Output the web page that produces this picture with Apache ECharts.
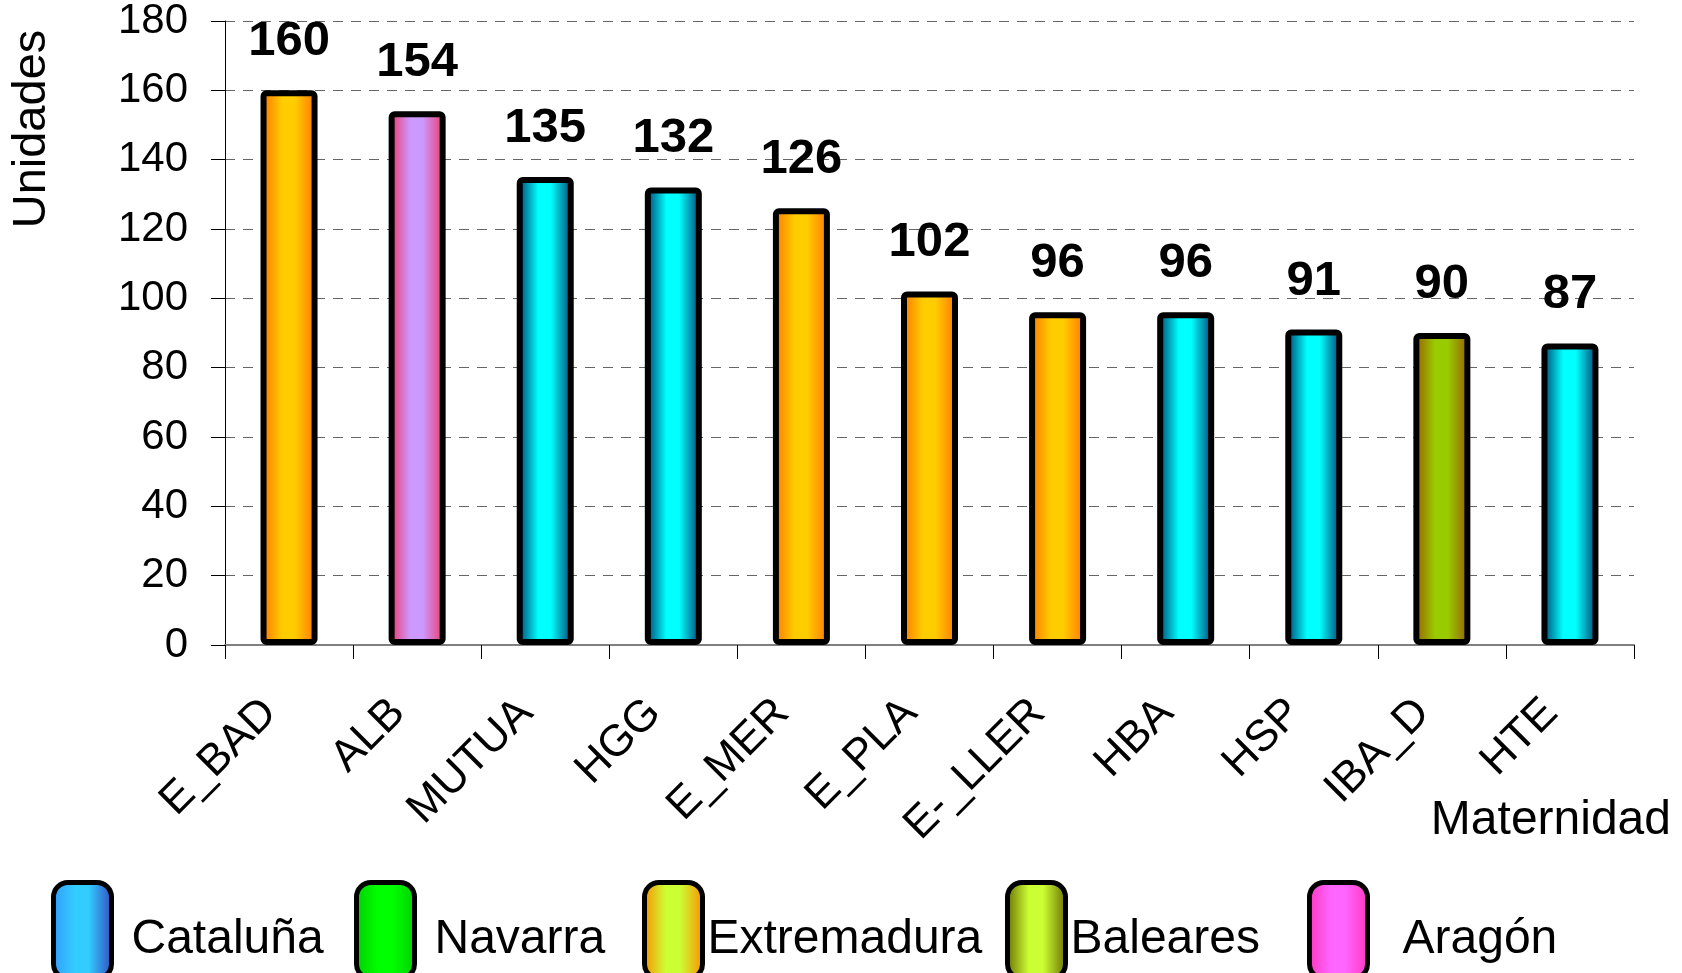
<!DOCTYPE html>
<html>
<head>
<meta charset="utf-8">
<script src="https://cdn.jsdelivr.net/npm/echarts@6/dist/echarts.min.js"></script>
<style>
  html, body { margin: 0; padding: 0; background: #fff; }
  #chart { width: 1682px; height: 973px; }
</style>
</head>
<body>
<div id="chart"></div>
<script>
var categories = ['E_BAD', 'ALB', 'MUTUA', 'HGG', 'E_MER', 'E_PLA', 'E-_LLER', 'HBA', 'HSP', 'IBA_D', 'HTE'];
var values = [160, 154, 135, 132, 126, 102, 96, 96, 91, 90, 87];
var regionOf = ['Extremadura', 'Aragón', 'Cataluña', 'Cataluña', 'Extremadura', 'Extremadura', 'Extremadura', 'Cataluña', 'Cataluña', 'Baleares', 'Cataluña'];
var regions = ['Cataluña', 'Navarra', 'Extremadura', 'Baleares', 'Aragón'];
var yTicks = { min: 0, max: 180, interval: 20 };

var FONT = '"Liberation Sans", Arial, sans-serif';

function grad(edge, mid, edge2) {
  return new echarts.graphic.LinearGradient(0, 0, 1, 0, [
    { offset: 0, color: edge },
    { offset: 0.38, color: mid },
    { offset: 0.6, color: mid },
    { offset: 1, color: edge2 || edge }
  ]);
}

// bar fills
var barFill = {
  'Cataluña': grad('#003366', '#00ffff'),
  'Navarra': grad('#00aa00', '#00ff00'),
  'Extremadura': grad('#ff7000', '#ffcc00'),
  'Baleares': grad('#995500', '#99cc00'),
  'Aragón': grad('#f0305e', '#cc99ff')
};

// legend swatches (differ from the bars)
var legendFill = {
  'Cataluña': grad('#3399ff', '#33ccff', '#3344bb'),
  'Navarra': grad('#00cc00', '#00ff00'),
  'Extremadura': grad('#ff8800', '#ccff33'),
  'Baleares': grad('#666600', '#ccff33'),
  'Aragón': grad('#ff33bb', '#ff66ff')
};

var legendLeft = [46, 349, 637, 1000, 1302];
var legendTextPad = [15, 15, 0, 0, 30];

var series = regions.map(function (r) {
  return {
    name: r,
    type: 'bar',
    stack: 'all',
    barWidth: 57,
    data: values.map(function (v, i) { return regionOf[i] === r ? v : '-'; }),
    itemStyle: {
      color: barFill[r],
      borderColor: '#000',
      borderWidth: 6,
      borderRadius: 3
    },
    label: {
      show: true,
      position: 'top',
      distance: 24,
      color: '#000',
      fontFamily: FONT,
      fontSize: 49,
      fontWeight: 'bold'
    }
  };
});

var legends = regions.map(function (r, i) {
  return {
    left: legendLeft[i],
    top: 875,
    orient: 'horizontal',
    itemWidth: 58,
    itemHeight: 96,
    icon: 'roundRect',
    selectedMode: false,
    data: [{
      name: r,
      itemStyle: { color: legendFill[r], borderColor: '#000', borderWidth: 5 }
    }],
    formatter: '{t|{name}}',
    textStyle: {
      color: '#000',
      fontFamily: FONT,
      fontSize: 48,
      rich: {
        t: {
          color: '#000',
          fontFamily: FONT,
          fontSize: 48,
          lineHeight: 50,
          padding: [18, 0, 0, legendTextPad[i]]
        }
      }
    }
  };
});

var chart = echarts.init(document.getElementById('chart'));

var option = {
  backgroundColor: '#fff',
  animation: false,
  grid: {
    left: 225,
    right: 48,
    top: 21,
    bottom: 328,
    containLabel: false,
    outerBoundsMode: 'none'
  },
  legend: legends,
  xAxis: {
    type: 'category',
    data: categories,
    axisLine: { lineStyle: { color: '#808080', width: 2 } },
    axisTick: { show: true, length: 14, lineStyle: { color: '#000' } },
    axisLabel: {
      interval: 0,
      rotate: 45,
      margin: 42,
      color: '#000',
      fontFamily: FONT,
      fontSize: 44,
      padding: [0, 27, 0, 0]
    }
  },
  yAxis: {
    type: 'value',
    min: yTicks.min,
    max: yTicks.max,
    interval: yTicks.interval,
    axisLine: { show: true, lineStyle: { color: '#000', width: 1 } },
    axisTick: { show: true, length: 14, lineStyle: { color: '#000' } },
    axisLabel: {
      margin: 37,
      color: '#000',
      fontFamily: FONT,
      fontSize: 42
    },
    splitLine: {
      lineStyle: { color: '#666', type: [10, 8], width: 1 }
    }
  },
  graphic: [
    {
      type: 'text',
      x: 32,
      y: 129,
      rotation: Math.PI / 2,
      style: {
        text: 'Unidades',
        fill: '#000',
        font: '47px ' + FONT,
        textAlign: 'center',
        textVerticalAlign: 'middle'
      }
    },
    {
      type: 'text',
      x: 1671,
      y: 821,
      style: {
        text: 'Maternidad',
        fill: '#000',
        font: '48px ' + FONT,
        textAlign: 'right',
        textVerticalAlign: 'middle'
      }
    }
  ],
  series: series
};

chart.setOption(option);
window.addEventListener('resize', function () {
  chart.resize();
});
</script>
</body>
</html>
